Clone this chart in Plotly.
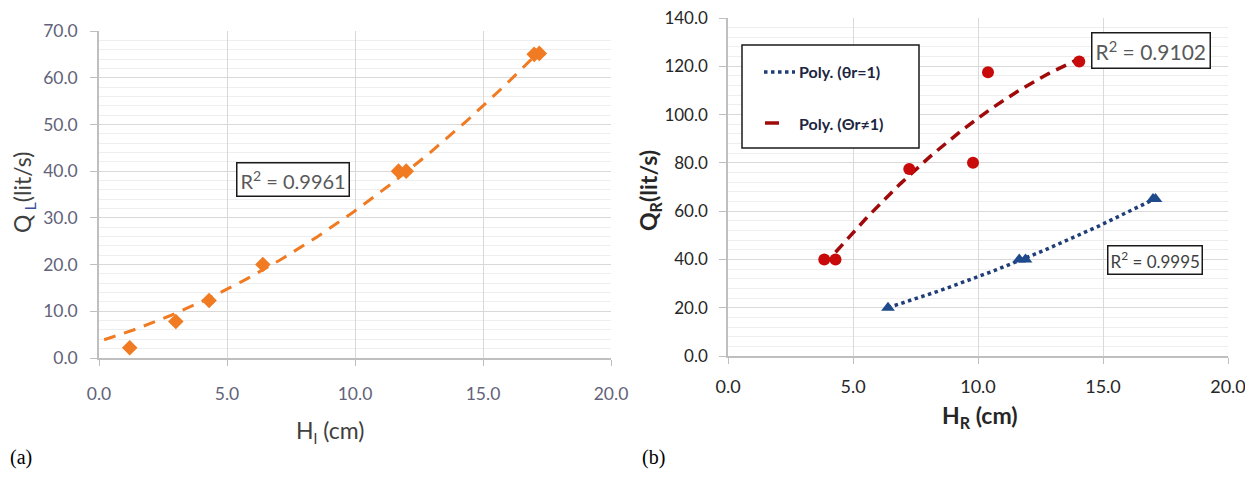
import numpy as np
import plotly.graph_objects as go

# page body has an 8px margin: keep the figure inside the 1253x477 window
OFF = 8
W, H = 1253 - 2 * OFF, 477 - 2 * OFF

# ---------------- data ----------------
# panel (a)
hl = [1.2, 3.0, 4.3, 6.4, 11.7, 12.0, 17.0, 17.2]
ql = [2.2, 7.8, 12.3, 20.0, 40.0, 40.0, 65.0, 65.2]
r2_a = "R<sup>2</sup> = 0.9961"
# polynomial trendline (order 2) as drawn in the reference: c2, c1, c0
trend_a_coef = [0.113, 1.664, 3.56]
trend_a_range = [0.2, 17.2]

# panel (b)
hr_eq = [6.4, 11.65, 11.9, 17.0, 17.1]      # θr = 1 (triangles)
qr_eq = [20.0, 40.0, 40.0, 65.0, 65.0]
hr_ne = [3.85, 4.3, 7.25, 9.8, 10.4, 14.05]  # θr ≠ 1 (circles)
qr_ne = [40.0, 40.0, 77.5, 80.0, 117.5, 122.0]
trend_ne_range = [4.3, 14.05]
r2_b1 = "R<sup>2</sup> = 0.9102"
r2_b2 = "R<sup>2</sup> = 0.9995"
legend_names = ["Poly. (θr=1)", "Poly. (Θr≠1)"]

xticks = [0, 5, 10, 15, 20]
yticks_a = [0, 10, 20, 30, 40, 50, 60, 70]
yticks_b = [0, 20, 40, 60, 80, 100, 120, 140]


def px(x):
    return (x - OFF) / W


def py(y):
    return 1 - (y - OFF) / H


def fit_curve(x, y, rng=None):
    c = np.polyfit(x, y, 2)
    lo, hi = (min(x), max(x)) if rng is None else rng
    xs = np.linspace(lo, hi, 120)
    return xs, np.polyval(c, xs)


fig = go.Figure()

# panel (a)
tx = np.linspace(trend_a_range[0], trend_a_range[1], 120)
ty = np.polyval(trend_a_coef, tx)
fig.add_trace(go.Scatter(x=tx, y=ty, mode="lines", xaxis="x", yaxis="y",
                         line=dict(color="#F07B22", width=3, dash="12px,9px"),
                         showlegend=False, hoverinfo="skip"))
fig.add_trace(go.Scatter(x=hl, y=ql, mode="markers", xaxis="x", yaxis="y",
                         marker=dict(symbol="diamond", size=12, color="#F07B22"),
                         showlegend=False))

# panel (b)
tx, ty = fit_curve(hr_ne, qr_ne, trend_ne_range)
fig.add_trace(go.Scatter(x=tx, y=ty, mode="lines", xaxis="x2", yaxis="y2",
                         line=dict(color="#A00A0A", width=3.5, dash="11px,7px"),
                         showlegend=False, hoverinfo="skip"))
tx, ty = fit_curve(hr_eq, qr_eq)
fig.add_trace(go.Scatter(x=tx, y=ty, mode="lines", xaxis="x2", yaxis="y2",
                         line=dict(color="#1F3E78", width=3.5, dash="dot"),
                         showlegend=False, hoverinfo="skip"))
fig.add_trace(go.Scatter(x=hr_ne, y=qr_ne, mode="markers", xaxis="x2", yaxis="y2",
                         marker=dict(symbol="circle", size=12, color="#C80A0A"),
                         showlegend=False))
fig.add_trace(go.Scatter(x=hr_eq, y=qr_eq, mode="markers", xaxis="x2", yaxis="y2",
                         marker=dict(symbol="triangle-up", size=12, color="#1F4A8C"),
                         showlegend=False))

grid_major = "#d9d9d9"
grid_minor = "#eeeeee"
axis_col = "#bfbfbf"

fnt_a = dict(family="Lato, 'Open Sans', sans-serif", size=17.5, color="#62627a")
fnt_b = dict(family="Lato, 'Open Sans', sans-serif", size=18, color="#262626")
fnt_by = dict(family="Lato, 'Open Sans', sans-serif", size=17, color="#262626")

common_x = dict(range=[0, 20], tickvals=xticks, tickformat=".1f", showgrid=True,
                gridcolor=grid_major, gridwidth=1.3, zeroline=False, showline=True,
                linecolor=axis_col, linewidth=1.5, ticks="outside", ticklen=6,
                tickcolor=axis_col, mirror=False, fixedrange=True, automargin=False,
                ticklabeloverflow="allow")
common_y = dict(tickformat=".1f", showgrid=True, gridcolor=grid_major, gridwidth=1.3,
                zeroline=False, showline=True, linecolor=axis_col, linewidth=1.5,
                ticks="outside", ticklen=7, tickcolor=axis_col, fixedrange=True,
                automargin=False, ticklabeloverflow="allow")

fig.update_layout(
    width=W, height=H,
    margin=dict(l=0, r=0, t=0, b=0, autoexpand=False),
    paper_bgcolor="white", plot_bgcolor="white",
    showlegend=False,
    xaxis=dict(domain=[px(99), px(611)], anchor="y", tickfont=fnt_a,
               ticklabelstandoff=13, **common_x),
    yaxis=dict(domain=[py(358), py(31)], anchor="x", range=[0, 70], tickvals=yticks_a,
               tickfont=fnt_a, ticklabelstandoff=9,
               minor=dict(dtick=2, showgrid=True, gridcolor=grid_minor, gridwidth=1),
               **common_y),
    xaxis2=dict(domain=[px(728), px(1228)], anchor="y2", tickfont=fnt_b,
                ticklabelstandoff=8, **common_x),
    yaxis2=dict(domain=[py(356), py(18)], anchor="x2", range=[0, 140], tickvals=yticks_b,
                tickfont=fnt_by, ticklabelstandoff=8,
                minor=dict(dtick=4, showgrid=True, gridcolor=grid_minor, gridwidth=1),
                **common_y),
)


def note(x, y, text, font, **kw):
    d = dict(x=px(x), y=py(y), xref="paper", yref="paper", text=text, showarrow=False,
             xanchor="center", yanchor="middle", font=font)
    d.update(kw)
    return d


ann = []
# axis titles
ann.append(note(23, 193, "Q<sub><span style='color:#3a4fa0'> L</span></sub>(lit/s)",
                dict(family="Lato, sans-serif", size=23, color="#404040"), textangle=-90))
ann.append(note(330, 431, "H<sub>l</sub> (cm)",
                dict(family="Lato, sans-serif", size=23, color="#404040")))
ann.append(note(649, 190, "<b>Q<sub>R</sub>(lit/s)</b>",
                dict(family="Lato, sans-serif", size=23, color="#262626"), textangle=-90))
ann.append(note(980, 416, "<b>H<sub>R</sub> (cm)</b>",
                dict(family="Lato, sans-serif", size=23, color="#262626")))
# panel labels
ann.append(note(8, 457, "(a)", dict(family="'Liberation Serif', serif", size=20, color="black"),
                xanchor="left"))
ann.append(note(640, 457, "(b)", dict(family="'Liberation Serif', serif", size=20, color="black"),
                xanchor="left"))
# R² boxes
ann.append(note(293, 179, r2_a, dict(family="Lato, sans-serif", size=20, color="#595959"),
                bgcolor="white", bordercolor="#1a1a1a", borderwidth=1.5, borderpad=3))
ann.append(note(1151, 50, r2_b1, dict(family="Lato, sans-serif", size=21, color="#595959"),
                bgcolor="white", bordercolor="#1a1a1a", borderwidth=1.5, borderpad=3))
ann.append(note(1155, 260, r2_b2, dict(family="Lato, sans-serif", size=17, color="#404040"),
                bgcolor="white", bordercolor="#1a1a1a", borderwidth=1.5, borderpad=2))
# manual legend texts
ann.append(note(797, 72, "<b>" + legend_names[0] + "</b>",
                dict(family="Lato, sans-serif", size=16, color="#1c2541"), xanchor="left"))
ann.append(note(797, 123, "<b>" + legend_names[1] + "</b>",
                dict(family="Lato, sans-serif", size=16, color="#1c2541"), xanchor="left"))
fig.update_layout(annotations=ann)

shapes = [
    dict(type="rect", xref="paper", yref="paper", x0=px(742), x1=px(919), y0=py(148), y1=py(45),
         line=dict(color="#1a1a1a", width=1.5), fillcolor="white", layer="above"),
    dict(type="line", xref="paper", yref="paper", x0=px(764), x1=px(795), y0=py(72), y1=py(72),
         line=dict(color="#1F3E78", width=3.5, dash="dot"), layer="above"),
    dict(type="line", xref="paper", yref="paper", x0=px(765), x1=px(779), y0=py(123), y1=py(123),
         line=dict(color="#A00A0A", width=3.5), layer="above"),
]
fig.update_layout(shapes=shapes)

fig.write_html("out.html")
